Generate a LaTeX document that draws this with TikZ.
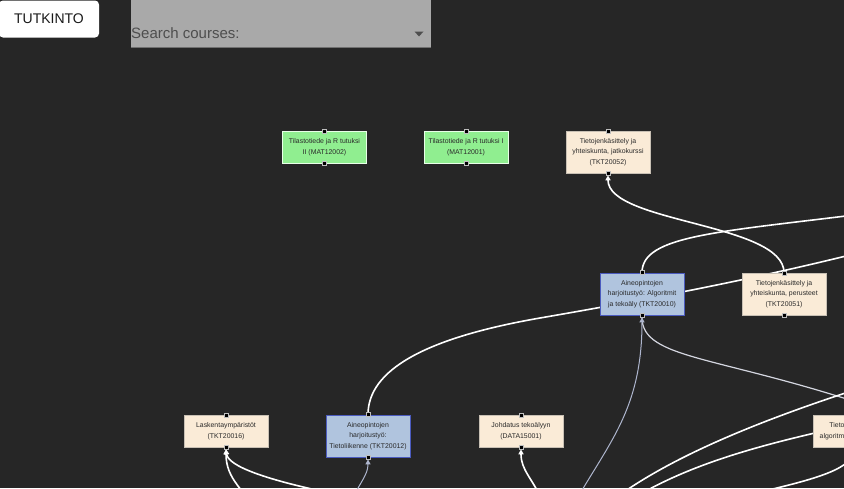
\documentclass[tikz,border=0pt]{standalone}
\usepackage{fontspec}
\setmainfont{Liberation Sans}
\usetikzlibrary{arrows.meta}
\pgfdeclarelayer{bgl}
\pgfdeclarelayer{edges}
\pgfsetlayers{bgl,edges,main}
\definecolor{bgc}{HTML}{262626}
\definecolor{beigec}{HTML}{FAEBD7}
\definecolor{beigeb}{HTML}{C8C0B4}
\definecolor{greenc}{HTML}{90EE90}
\definecolor{greenb}{HTML}{E8FFE8}
\definecolor{bluec}{HTML}{B0C4DE}
\definecolor{blueb}{HTML}{4B5BBF}
\definecolor{txtc}{HTML}{2A2A2A}
\definecolor{searchc}{HTML}{A9A9A9}
\definecolor{searchline}{HTML}{707070}
\definecolor{searchtxt}{HTML}{4E4E4E}
\definecolor{grayedge}{HTML}{AEB6CE}
\definecolor{lightedge}{HTML}{D4D6E0}
\begin{document}
\begin{tikzpicture}[x=1pt,y=-1pt,
  course/.style={draw, line width=0.6pt, minimum width=84pt, align=center, inner sep=0pt,
    font=\fontsize{6.9}{10.5}\selectfont, text=txtc},
  beige/.style={course, fill=beigec, draw=beigeb},
  greenbox/.style={course, fill=greenc, draw=greenb},
  bluebox/.style={course, fill=bluec, draw=blueb, line width=0.8pt},
  short/.style={minimum height=32pt},
  tall/.style={minimum height=42pt},
  handle/.style={fill=black, draw=white!75!black, line width=0.3pt, minimum size=4pt, inner sep=0pt},
  wedge/.style={draw=white, line width=1.6pt},
  gedge/.style={draw=grayedge, line width=1pt},
  ledge/.style={draw=lightedge, line width=1.2pt},
  arrw/.style={-{Triangle[length=5pt,width=5pt,fill=white]}},
  arrg/.style={-{Triangle[length=5pt,width=5pt,fill=grayedge]}},
  btn/.style={fill=white, rounded corners=4pt, minimum width=100pt, minimum height=37pt,
    inner sep=0pt, font=\fontsize{14}{16}\selectfont, text=black!90},
]
\useasboundingbox (0,0) rectangle (844,488);
\clip (0,0) rectangle (844,488);
\begin{pgfonlayer}{bgl}
  \fill[bgc] (0,0) rectangle (844,488);
\end{pgfonlayer}

% header
\node[btn] (btn) at (49,19) {TUTKINTO};
\fill[searchc] (131,0) rectangle (431,48);
\draw[searchline, line width=1pt] (131,47.5) -- (431,47.5);
\node[anchor=base west, inner sep=0pt, font=\fontsize{15}{18}\selectfont, text=searchtxt] (stext) at (131,38) {Search courses:};
\fill[searchtxt] (414.5,31.5) -- (423.5,31.5) -- (419,36.5) -- cycle;

% course nodes
\node[greenbox, short] (n2) at (324.5,147) {Tilastotiede ja R tutuksi\\II (MAT12002)};
\node[greenbox, short] (n1) at (466,147) {Tilastotiede ja R tutuksi I\\(MAT12001)};
\node[beige, tall] (n52) at (608,152) {Tietojenkäsittely ja\\yhteiskunta, jatkokurssi\\(TKT20052)};
\node[bluebox, tall] (n10) at (642,294) {Aineopintojen\\harjoitustyö: Algoritmit\\ja tekoäly (TKT20010)};
\node[beige, tall] (n51) at (784,294) {Tietojenkäsittely ja\\yhteiskunta, perusteet\\(TKT20051)};
\node[beige, short] (n16) at (226,431) {Laskentaympäristöt\\(TKT20016)};
\node[bluebox, tall] (n12) at (368,436) {Aineopintojen\\harjoitustyö:\\Tietoliikenne (TKT20012)};
\node[beige, short] (nD) at (521,431) {Johdatus tekoälyyn\\(DATA15001)};
\node[beige, short] (nT) at (855,431) {Tietorakenteet ja\\algoritmit I (TKT20001)};

\foreach \n in {n2,n1,n52,n10,n51,n16,n12,nD,nT}{
  \node[handle] (\n-ht) at (\n.north) {};
  \node[handle] (\n-hb) at (\n.south) {};
}

% free ends
\coordinate (c2) at (870,213);
\coordinate (c3) at (870,250);
\coordinate (c5) at (560,530);
\coordinate (c6) at (880,410);
\coordinate (c7a) at (870,385);
\coordinate (c7b) at (600,510);
\coordinate (c8a) at (850,425);
\coordinate (c8b) at (615,510);
\coordinate (c9) at (760,492);
\coordinate (c10) at (255,510);
\coordinate (c11) at (340,495);
\coordinate (c12) at (352,500);
\coordinate (c13) at (542,500);

\begin{pgfonlayer}{edges}
  \draw[wedge, arrw] (n51.north) .. controls (784,223) and (608,223) .. ([yshift=-2pt]n52.south);
  \draw[wedge] (n10.north) .. controls (642,235) and (720,232) .. (c2);
  \draw[wedge] (n12.north) .. controls (368,370) and (425,338) .. (540,318)
                           .. controls (650,299) and (760,278) .. (c3);
  \draw[ledge] ([yshift=-2pt]n10.south) .. controls (642,360) and (720,355) .. (c6);
  \draw[gedge, arrg] (c5) .. controls (600,450) and (642,420) .. ([yshift=-2pt]n10.south);
  \draw[wedge] (c7a) .. controls (760,420) and (660,460) .. (c7b);
  \draw[wedge] (c8a) .. controls (760,445) and (680,465) .. (c8b);
  \draw[wedge] (nT.south) .. controls (855,468) and (820,478) .. (c9);
  \draw[wedge, arrw] (c10) .. controls (245,490) and (226,480) .. ([yshift=-2pt]n16.south);
  \draw[wedge, arrw] (c11) .. controls (265,480) and (228,466) .. ([yshift=-2pt]n16.south);
  \draw[gedge, arrg] (c12) .. controls (360,482) and (368,475) .. ([yshift=-2pt]n12.south);
  \draw[wedge, arrw] (c13) .. controls (532,478) and (521,470) .. ([yshift=-2pt]nD.south);
\end{pgfonlayer}
\end{tikzpicture}
\end{document}
